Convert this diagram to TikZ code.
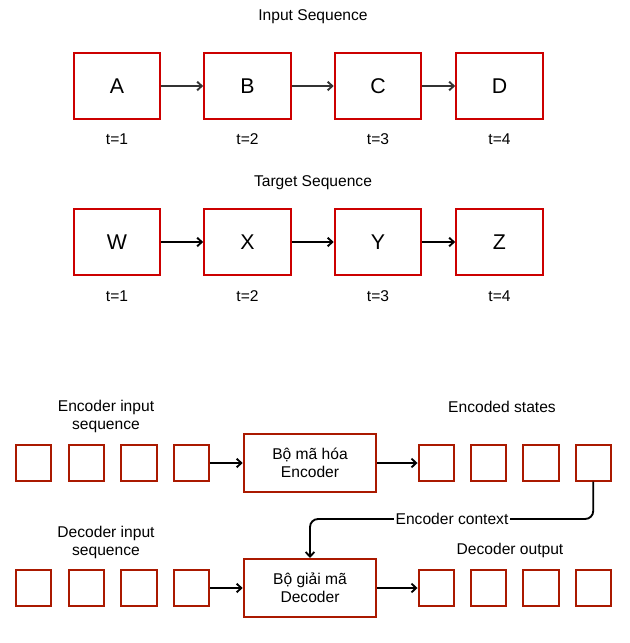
\documentclass[tikz,border=0pt]{standalone}
\usepackage{fontspec}
\setmainfont{Liberation Sans}
\usetikzlibrary{arrows.meta,positioning}
\definecolor{seqred}{RGB}{204,0,0}
\definecolor{codered}{RGB}{170,25,0}
\definecolor{linegray}{RGB}{51,51,51}

\begin{document}
\begin{tikzpicture}[x=0.75pt,y=-0.75pt]
  \tikzset{ sq/.style={draw=seqred,line width=1.5pt,minimum width=65pt,minimum height=49.5pt,inner sep=0pt,font=\fontsize{16}{19}\selectfont},
  cell/.style={draw=codered,line width=1.5pt,minimum size=26.5pt,inner sep=0pt},
  coder/.style={draw=codered,line width=1.5pt,minimum width=99.5pt,minimum height=43.5pt,inner sep=0pt,align=center,font=\fontsize{11.7}{13.5}\selectfont},
  txt/.style={align=center,inner sep=1pt,font=\fontsize{11.7}{13.5}\selectfont},
  conn/.style={-{Straight Barb[length=3.5pt,width=6.5pt]},line width=1.4pt},
  }
  \useasboundingbox (0,0) rectangle (630,643);

  % input sequence
  \node[txt] (inp) at (313, 17) {Input Sequence};
  \node[sq] (A) at (117, 86) {A};
  \node[sq] (B) at (247.5, 86) {B};
  \node[sq] (C) at (378, 86) {C};
  \node[sq] (D) at (499.5, 86) {D};
  \node[txt] (ta) at (117, 139) {t=1};
  \node[txt] (tb) at (247.5, 139) {t=2};
  \node[txt] (tc) at (378, 139) {t=3};
  \node[txt] (td) at (499.5, 139) {t=4};
  \draw[conn,linegray] (A) -- (B);
  \draw[conn,linegray] (B) -- (C);
  \draw[conn,linegray] (C) -- (D);

  % target sequence
  \node[txt] (tgt) at (313, 183) {Target Sequence};
  \node[sq] (W) at (117, 242) {W};
  \node[sq] (X) at (247.5, 242) {X};
  \node[sq] (Y) at (378, 242) {Y};
  \node[sq] (Z) at (499.5, 242) {Z};
  \node[txt] (tw) at (117, 296) {t=1};
  \node[txt] (tx) at (247.5, 296) {t=2};
  \node[txt] (ty) at (378, 296) {t=3};
  \node[txt] (tz) at (499.5, 296) {t=4};
  \draw[conn] (W) -- (X);
  \draw[conn] (X) -- (Y);
  \draw[conn] (Y) -- (Z);

  % encoder
  \node[txt] (enclbl) at (106, 416) {Encoder input\\sequence};
  \node[txt] (statelbl) at (502, 407) {Encoded states};
  \node[cell] (e1) at (33.7, 463) {};
  \node[cell] (e2) at (86.3, 463) {};
  \node[cell] (e3) at (139, 463) {};
  \node[cell] (e4) at (191.3, 463) {};
  \node[coder] (enc) at (310, 463) {Bộ mã hóa\\Encoder};
  \node[cell] (s1) at (436.2, 463) {};
  \node[cell] (s2) at (488.3, 463) {};
  \node[cell] (s3) at (541, 463) {};
  \node[cell] (s4) at (593.2, 463) {};
  \draw[conn] (e4) -- (enc);
  \draw[conn] (enc) -- (s1);

  % decoder
  \node[txt] (declbl) at (106, 542) {Decoder input\\sequence};
  \node[txt] (outlbl) at (510, 550) {Decoder output};
  \node[cell] (d1) at (33.7, 588) {};
  \node[cell] (d2) at (86.3, 588) {};
  \node[cell] (d3) at (139, 588) {};
  \node[cell] (d4) at (191.3, 588) {};
  \node[coder] (dec) at (310, 588) {Bộ giải mã\\Decoder};
  \node[cell] (o1) at (436.2, 588) {};
  \node[cell] (o2) at (488.3, 588) {};
  \node[cell] (o3) at (541, 588) {};
  \node[cell] (o4) at (593.2, 588) {};
  \draw[conn] (d4) -- (dec);
  \draw[conn] (dec) -- (o1);

  % context
  \coordinate (ctx) at (452, 519);
  \draw[conn,rounded corners=6pt] (s4.south) |- (ctx) -| (dec.north);
  \node[txt,fill=white] (ctxlbl) at (ctx) {Encoder context};
\end{tikzpicture}
\end{document}
